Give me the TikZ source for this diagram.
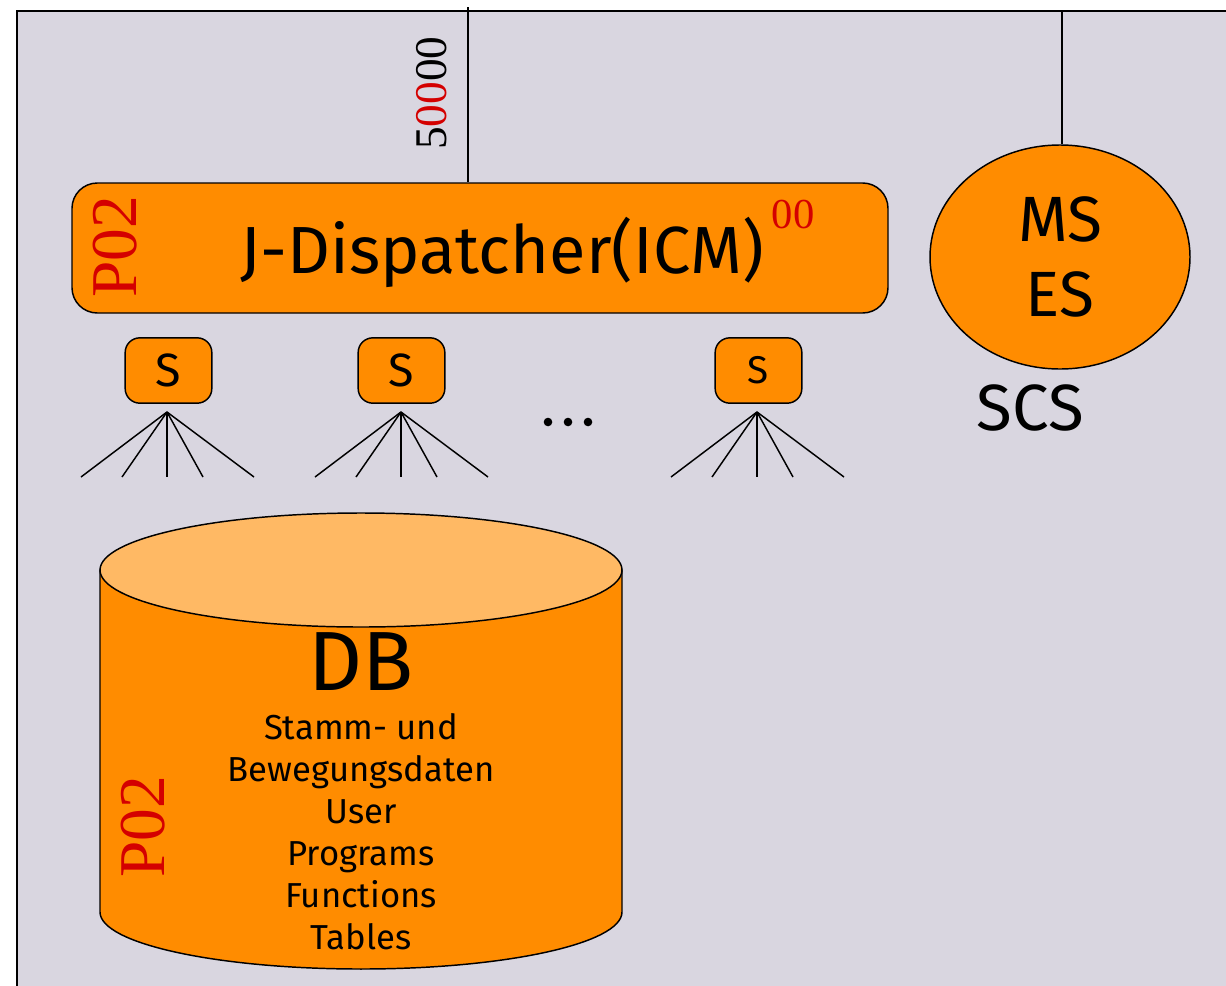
\documentclass[tikz,border=0pt]{standalone}
\usepackage{fontspec}
\setmainfont{Fira Sans}
\newfontfamily\serifrm{Liberation Serif}
\usetikzlibrary{shapes.geometric}
\definecolor{bg}{HTML}{D9D6E0}
\definecolor{orng}{HTML}{FF8C00}
\definecolor{lorng}{HTML}{FFB964}
\definecolor{pred}{HTML}{D40000}
\tikzset{
  shapeline/.style={draw=black, line width=1.1pt},
  dispbox/.style={shapeline, fill=orng, rectangle, rounded corners=19pt, minimum width=612pt, minimum height=97.5pt, inner sep=0pt},
  sbox/.style={shapeline, fill=orng, rectangle, rounded corners=11pt, minimum width=65pt, minimum height=49pt, inner sep=0pt},
  msell/.style={shapeline, fill=orng, ellipse, minimum width=195pt, minimum height=168pt, inner sep=0pt, align=center, font=\fontsize{48}{56}\selectfont},
  redtag/.style={text=pred, font=\serifrm\fontsize{49}{49}\selectfont, rotate=90, inner sep=0pt},
  fanline/.style={draw=black, line width=1.1pt},
  wire/.style={draw=black, line width=1.1pt},
}
\begin{document}
\begin{tikzpicture}[x=0.75pt,y=-0.75pt]
\useasboundingbox (0,0) rectangle (1226,985);
\clip (0,0) rectangle (1226,985);
% background panel
\draw[fill=bg, line width=1.6pt] (17,11) rectangle (1260,1020);

% J-Dispatcher box
\node[dispbox] (disp) at (480,248) {};
\node[inner sep=0pt, font=\fontsize{50}{60}\selectfont] (displabel) at (502,252) {J-Dispatcher(ICM)};
\node[redtag] (p02a) at (115,247) {P02};
\node[inner sep=0pt, text=pred, font=\serifrm\fontsize{32}{32}\selectfont] (sup) at (793,215) {00};

% top wire with 50000
\coordinate (top1) at (468,7);
\draw[wire] (top1) -- (top1 |- disp.north);
\node[inner sep=0pt, rotate=90, font=\serifrm\fontsize{34}{34}\selectfont] (num) at (432,93) {5\textcolor{pred}{00}00};

% MS/ES ellipse
\node[msell] (ms) at (1060,257) {MS\\ES};
\coordinate (top2) at (1062,11);
\draw[wire] (top2) -- (top2 |- ms.north);
\node[inner sep=0pt, font=\fontsize{49}{56}\selectfont] (scs) at (1030,408) {SCS};

% S boxes
\node[sbox, font=\fontsize{35}{35}\selectfont] (s1) at (168.5,370.5) {S};
\node[sbox, font=\fontsize{35}{35}\selectfont] (s2) at (401.5,370.5) {S};
\node[sbox, font=\fontsize{29}{29}\selectfont] (s3) at (758.5,370.5) {S};

% fans
\foreach \n/\ax in {1/167, 2/401, 3/757} {
  \coordinate (apex\n) at (\ax,412);
  \foreach \k/\dx in {a/-86, b/-45, c/0, d/36, e/87} {
    \coordinate (end\n\k) at (\ax+\dx,477);
    \draw[fanline] (apex\n) -- (end\n\k);
  }
}

% dots
\foreach \x in {548,568,588} \fill (\x,422) circle[radius=4.3];

% DB cylinder
\draw[shapeline, fill=orng] (100,570) -- (100,912) arc[start angle=180, end angle=0, x radius=261, y radius=57] -- (622,570) -- cycle;
\draw[shapeline, fill=lorng] (361,570) ellipse[x radius=261, y radius=57];
\node[inner sep=0pt, font=\fontsize{63}{63}\selectfont] (db) at (361,662) {DB};
\node[inner sep=0pt, align=center, font=\fontsize{26}{31.5}\selectfont] (dbtext) at (361,832) {Stamm- und\\Bewegungsdaten\\User\\Programs\\Functions\\Tables};
\node[redtag] (p02b) at (143,827) {P02};
\end{tikzpicture}
\end{document}
